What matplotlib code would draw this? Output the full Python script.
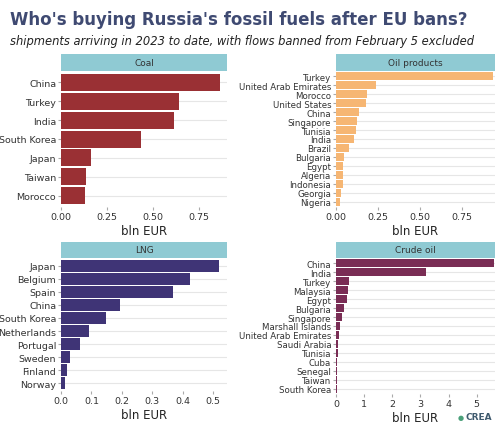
import matplotlib.pyplot as plt
from matplotlib.patches import Rectangle

W, H = 495, 435

coal_c = ["China", "Turkey", "India", "South Korea", "Japan", "Taiwan", "Morocco"]
coal_v = [0.86, 0.64, 0.615, 0.435, 0.163, 0.136, 0.13]

oil_c = ["Turkey", "United Arab Emirates", "Morocco", "United States", "China",
         "Singapore", "Tunisia", "India", "Brazil", "Bulgaria", "Egypt",
         "Algeria", "Indonesia", "Georgia", "Nigeria"]
oil_v = [0.94, 0.24, 0.185, 0.18, 0.14, 0.125, 0.12, 0.11, 0.08, 0.045,
         0.043, 0.042, 0.04, 0.03, 0.025]

lng_c = ["Japan", "Belgium", "Spain", "China", "South Korea", "Netherlands",
         "Portugal", "Sweden", "Finland", "Norway"]
lng_v = [0.52, 0.425, 0.367, 0.195, 0.148, 0.092, 0.063, 0.03, 0.02, 0.012]

crude_c = ["China", "India", "Turkey", "Malaysia", "Egypt", "Bulgaria",
           "Singapore", "Marshall Islands", "United Arab Emirates",
           "Saudi Arabia", "Tunisia", "Cuba", "Senegal", "Taiwan", "South Korea"]
crude_v = [5.6, 3.2, 0.45, 0.43, 0.4, 0.27, 0.2, 0.13, 0.12, 0.07, 0.06,
           0.05, 0.04, 0.03, 0.02]

fig = plt.figure(figsize=(W / 100, H / 100), dpi=100)
fig.patch.set_facecolor("white")

fig.text(10 / W, 1 - 20 / H, "Who's buying Russia's fossil fuels after EU bans?",
         fontsize=12, weight="bold", color="#3f4a72", va="center")
fig.text(10 / W, 1 - 41 / H,
         "shipments arriving in 2023 to date, with flows banned from February 5 excluded",
         fontsize=8.3, style="italic", color="#222222", va="center")


def panel(x0, x1, strip_top, y0, y1, title, cats, vals, color, xlim, ticks, labels, fs):
    sa = fig.add_axes([x0 / W, 1 - (y0 - 0.5) / H, (x1 - x0) / W, (y0 - strip_top) / H])
    sa.add_patch(Rectangle((0, 0), 1, 1, color="#8fcad3", transform=sa.transAxes))
    sa.text(0.5, 0.5, title, ha="center", va="center", fontsize=6.5, color="#333333")
    sa.axis("off")
    ax = fig.add_axes([x0 / W, 1 - y1 / H, (x1 - x0) / W, (y1 - y0) / H])
    n = len(cats)
    ys = list(range(n))[::-1]
    ax.barh(ys, vals, height=0.9, color=color, zorder=2)
    ax.set_ylim(-0.6, n - 0.4)
    ax.set_xlim(0, xlim)
    ax.set_yticks(ys)
    ax.set_yticklabels(cats, fontsize=fs, color="#333333")
    ax.set_xticks(ticks)
    ax.set_xticklabels(labels, fontsize=6.8, color="#333333")
    ax.tick_params(length=2, color="#aaaaaa", pad=1.5)
    ax.grid(axis="y", color="#e6e6e6", lw=0.8, zorder=0)
    for s in ax.spines.values():
        s.set_visible(False)
    ax.set_xlabel("bln EUR", fontsize=8.5, color="#222222", labelpad=2)
    return ax


panel(61, 227, 55, 72, 208, "Coal", coal_c, coal_v, "#9a3034", 0.9,
      [0, 0.25, 0.5, 0.75], ["0.00", "0.25", "0.50", "0.75"], 6.8)
panel(336, 495, 55, 72, 208, "Oil products", oil_c, oil_v, "#f6b673", 0.95,
      [0, 0.25, 0.5, 0.75], ["0.00", "0.25", "0.50", "0.75"], 6.2)
panel(61, 227, 243, 259, 392, "LNG", lng_c, lng_v, "#3f3476", 0.545,
      [0, 0.1, 0.2, 0.3, 0.4, 0.5], ["0.0", "0.1", "0.2", "0.3", "0.4", "0.5"], 6.8)
panel(336, 495, 243, 259, 395, "Crude oil", crude_c, crude_v, "#7a2d55", 5.65,
      [0, 1, 2, 3, 4, 5], ["0", "1", "2", "3", "4", "5"], 6.2)

fig.text(465 / W, 1 - 418 / H, "CREA", fontsize=6.5, weight="bold",
         color="#3f5a6e", va="center")
fig.text(458 / W, 1 - 418 / H, "\u25cf", fontsize=5, color="#4aa07a", va="center")

fig.savefig("out.png", dpi=100)
